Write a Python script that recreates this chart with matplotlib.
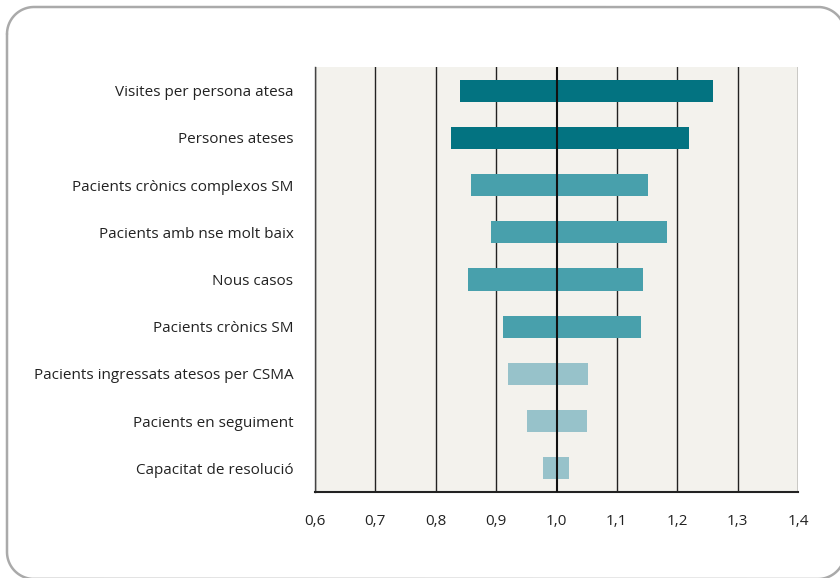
import matplotlib
matplotlib.use("Agg")
import matplotlib.pyplot as plt
import numpy as np

categories = [
    "Visites per persona atesa",
    "Persones ateses",
    "Pacients crònics complexos SM",
    "Pacients amb nse molt baix",
    "Nous casos",
    "Pacients crònics SM",
    "Pacients ingressats atesos per CSMA",
    "Pacients en seguiment",
    "Capacitat de resolució",
]
low_values = [0.84, 0.825, 0.858, 0.891, 0.853, 0.911, 0.919, 0.951, 0.977]
high_values = [1.259, 1.219, 1.151, 1.183, 1.143, 1.140, 1.052, 1.051, 1.020]
bar_colors = ["#037381", "#037381", "#48A0AC", "#48A0AC", "#48A0AC",
              "#48A0AC", "#97C2CA", "#97C2CA", "#97C2CA"]
reference = 1.0
xticks = [0.6, 0.7, 0.8, 0.9, 1.0, 1.1, 1.2, 1.3, 1.4]
xtick_labels = ["0,6", "0,7", "0,8", "0,9", "1,0", "1,1", "1,2", "1,3", "1,4"]

plt.rcParams['font.family'] = ['Open Sans', 'DejaVu Sans']

fig = plt.figure(figsize=(8.4, 5.78), dpi=100)
fig.patch.set_facecolor("white")

# overlay axes in pixel units for the rounded decorative frame
bg = fig.add_axes([0, 0, 1, 1], zorder=-1)
bg.set_xlim(0, 840)
bg.set_ylim(578, 0)
bg.axis("off")
L, T, R, B, r = 7.0, 7.0, 845.0, 579.0, 27.0
segs = []
t = np.linspace(0, np.pi / 2, 40)
# top-left corner -> top edge -> top-right corner -> right edge -> bottom-right -> bottom -> bottom-left -> left
xs = np.concatenate([L + r - r * np.cos(t), R - r + r * np.sin(t),
                     R - r + r * np.cos(t), L + r - r * np.sin(t), [L]])
ys = np.concatenate([T + r - r * np.sin(t), T + r - r * np.cos(t),
                     B - r + r * np.sin(t), B - r + r * np.cos(t), [T + r]])
bg.plot(xs, ys, color="#AAAAAA", linewidth=1.8, solid_capstyle="round")

ax = fig.add_axes([0.375, 0.1488, 0.575, 0.7353])
ax.set_facecolor("#F3F2ED")

y = np.arange(len(categories))
h = 0.47
for i in range(len(categories)):
    ax.barh(y[i], reference - low_values[i], left=low_values[i], height=h,
            color=bar_colors[i], zorder=3)
    ax.barh(y[i], high_values[i] - reference, left=reference, height=h,
            color=bar_colors[i], zorder=3)

for xt in xticks:
    if xt == reference:
        ax.axvline(xt, color="#111111", linewidth=1.5, zorder=4)
    else:
        ax.axvline(xt, color="#222222", linewidth=1.0, zorder=1)

ax.set_xlim(0.6, 1.4)
ax.set_ylim(len(categories) - 0.5, -0.5)
ax.set_yticks(y)
ax.set_yticklabels(categories, fontsize=11, color="#222222")
ax.set_xticks(xticks)
ax.set_xticklabels(xtick_labels, fontsize=11, color="#222222")
ax.tick_params(axis="both", length=0)
ax.tick_params(axis="y", pad=15.5)
ax.tick_params(axis="x", pad=16)

for s in ["top", "right"]:
    ax.spines[s].set_visible(False)
ax.spines["left"].set_color("#444444")
ax.spines["left"].set_linewidth(1.0)
ax.spines["bottom"].set_color("#222222")
ax.spines["bottom"].set_linewidth(1.5)

fig.savefig("out.png", dpi=100)
